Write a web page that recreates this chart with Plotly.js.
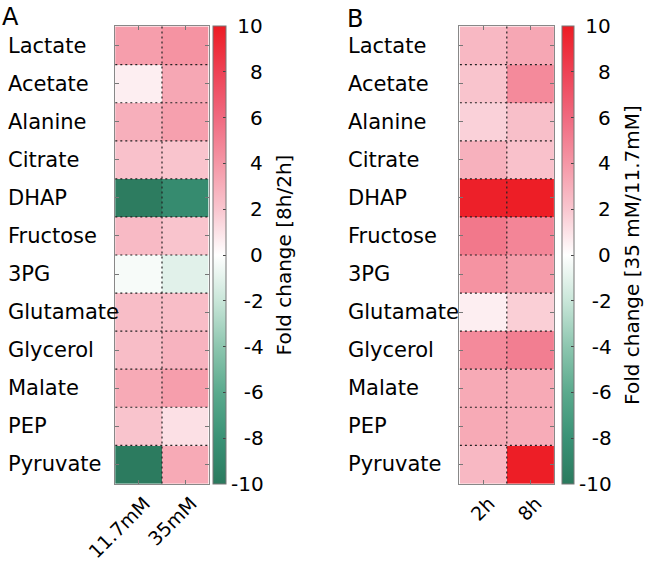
<!DOCTYPE html>
<html>
<head>
<meta charset="utf-8">
<script src="https://cdn.plot.ly/plotly-3.0.1.min.js"></script>
<style>html,body{margin:0;padding:0;background:#fff;}#chart{width:646px;height:561px;}</style>
</head>
<body>
<div id="chart"></div>
<script>
// ---- data ----
const metabolites = ['Lactate','Acetate','Alanine','Citrate','DHAP','Fructose','3PG','Glutamate','Glycerol','Malate','PEP','Pyruvate'];
const colsA = ['11.7mM','35mM'];
const colsB = ['2h','8h'];
// Panel A: fold change 8h/2h
const a_11_7mM = [3.7, 0.6, 3.0, 2.2, -9.8, 2.5, -0.3, 2.4, 2.4, 3.2, 2.1, -9.9];
const a_35mM   = [4.2, 3.3, 3.6, 2.1, -8.6, 2.1, -1.1, 2.4, 2.8, 3.7, 1.1, 3.2];
// Panel B: fold change 35 mM / 11.7 mM
const b_2h = [2.6, 2.1, 1.6, 2.9, 9.8, 5.4, 4.2, 0.6, 4.6, 3.2, 3.2, 2.6];
const b_8h = [3.3, 4.6, 2.3, 2.2, 9.9, 4.8, 3.8, 1.7, 5.1, 3.2, 3.1, 9.9];
const cbTicks = [10, 8, 6, 4, 2, 0, -2, -4, -6, -8, -10];
const titleA = 'Fold change [8h/2h]';
const titleB = 'Fold change [35 mM/11.7mM]';

// ---- styling ----
const FONT = 'DejaVu Sans, Liberation Sans, Arial, sans-serif';
const W = 646, H = 561;
const colorscale = [
  [0.0, '#2B7A5E'], [0.1, '#3A9276'], [0.2, '#5AAA8D'], [0.3, '#8DC6AF'], [0.4, '#C9E6D9'],
  [0.5, '#FFFFFF'],
  [0.6, '#F9C6CF'], [0.7, '#F597A6'], [0.8, '#F06A80'], [0.9, '#EE4255'], [1.0, '#ED1C24']
];
const plotTop = 26, plotBot = 484;
const yDom = [1 - plotBot / H, 1 - plotTop / H];

// right-align colorbar labels with figure / punctuation spaces
function pad(v) {
  const s = String(v);
  const neg = v < 0;
  const digits = s.replace('-', '').length;
  let p = '';
  if (!neg) p += '\u2008';
  for (let i = digits; i < 2; i++) p += '\u2007';
  return p + s + '\u2008';
}
const cbText = cbTicks.map(pad);

function colorbar(xpx, thick, title) {
  return {
    x: xpx / W, xanchor: 'left', xpad: 0,
    y: 1 - ((plotTop + plotBot) / 2) / H, yanchor: 'middle', ypad: 0,
    len: plotBot - plotTop, lenmode: 'pixels',
    thickness: thick, thicknessmode: 'pixels',
    outlinewidth: 1, outlinecolor: '#777',
    tickmode: 'array', tickvals: cbTicks, ticktext: cbText,
    ticks: 'inside', ticklen: 3, tickcolor: '#444',
    tickfont: {family: FONT, size: 20, color: '#000'},
    title: {text: title, side: 'right', font: {family: FONT, size: 20, color: '#000'}}
  };
}

function zOf(c1, c2) { return metabolites.map((m, i) => [c1[i], c2[i]]); }

const traces = [
  {type: 'heatmap', x: colsA, y: metabolites, z: zOf(a_11_7mM, a_35mM),
   zmin: -10, zmax: 10, colorscale: colorscale, xaxis: 'x', yaxis: 'y',
   colorbar: colorbar(213.3, 12.7, titleA), hoverinfo: 'skip'},
  {type: 'heatmap', x: colsB, y: metabolites, z: zOf(b_2h, b_8h),
   zmin: -10, zmax: 10, colorscale: colorscale, xaxis: 'x2', yaxis: 'y2',
   colorbar: colorbar(562.3, 12, titleB), hoverinfo: 'skip'}
];

function xax(domPx) {
  return {
    domain: [domPx[0] / W, domPx[1] / W], anchor: domPx[2],
    type: 'category', showgrid: false, zeroline: false,
    showline: true, linecolor: '#888', linewidth: 1, mirror: 'ticks',
    ticks: 'inside', ticklen: 4, tickcolor: '#777',
    tickangle: -45, ticklabelshift: 6, ticklabelstandoff: 0,
    tickfont: {family: FONT, size: 19, color: '#000'}
  };
}
function yax(anchor) {
  return {
    domain: yDom, anchor: anchor, type: 'category',
    categoryorder: 'array', categoryarray: metabolites, autorange: 'reversed',
    showgrid: false, zeroline: false, showticklabels: false,
    showline: true, linecolor: '#888', linewidth: 1, mirror: 'ticks',
    ticks: 'inside', ticklen: 4, tickcolor: '#777'
  };
}

// dotted cell separators
const shapes = [];
[['x', 'y', colsA], ['x2', 'y2', colsB]].forEach(([xr, yr, cols]) => {
  const line = {color: '#222', width: 1.2, dash: '2px,3px'};
  for (let i = 1; i < metabolites.length; i++) {
    shapes.push({type: 'line', xref: xr, yref: yr, layer: 'above',
      x0: -0.5, x1: cols.length - 0.5, y0: i - 0.5, y1: i - 0.5, line: line});
  }
  for (let j = 1; j < cols.length; j++) {
    shapes.push({type: 'line', xref: xr, yref: yr, layer: 'above',
      x0: j - 0.5, x1: j - 0.5, y0: -0.5, y1: metabolites.length - 0.5, line: line});
  }
});

// left-aligned row labels + panel letters
const annotations = [];
[['y', 6], ['y2', 346]].forEach(([yr, xpx]) => {
  metabolites.forEach(m => annotations.push({
    text: m, xref: 'paper', x: xpx / W, xanchor: 'left',
    yref: yr, y: m, yanchor: 'middle', showarrow: false,
    font: {family: FONT, size: 21, color: '#000'}
  }));
});
annotations.push({text: 'A', xref: 'paper', yref: 'paper', x: 0, y: 1 - 1 / H,
  xanchor: 'left', yanchor: 'top', showarrow: false, font: {family: FONT, size: 24, color: '#000'}});
annotations.push({text: 'B', xref: 'paper', yref: 'paper', x: 345 / W, y: 1 - 3 / H,
  xanchor: 'left', yanchor: 'top', showarrow: false, font: {family: FONT, size: 24, color: '#000'}});

const layout = {
  width: W, height: H, margin: {l: 0, r: 0, t: 0, b: 0},
  paper_bgcolor: '#fff', plot_bgcolor: '#fff',
  font: {family: FONT, color: '#000'},
  xaxis: xax([114.7, 209.3, 'y']),
  yaxis: yax('x'),
  xaxis2: xax([459.3, 554.3, 'y2']),
  yaxis2: yax('x2'),
  shapes: shapes, annotations: annotations, showlegend: false
};

Plotly.newPlot('chart', traces, layout, {displayModeBar: false, staticPlot: true});
</script>
</body>
</html>
